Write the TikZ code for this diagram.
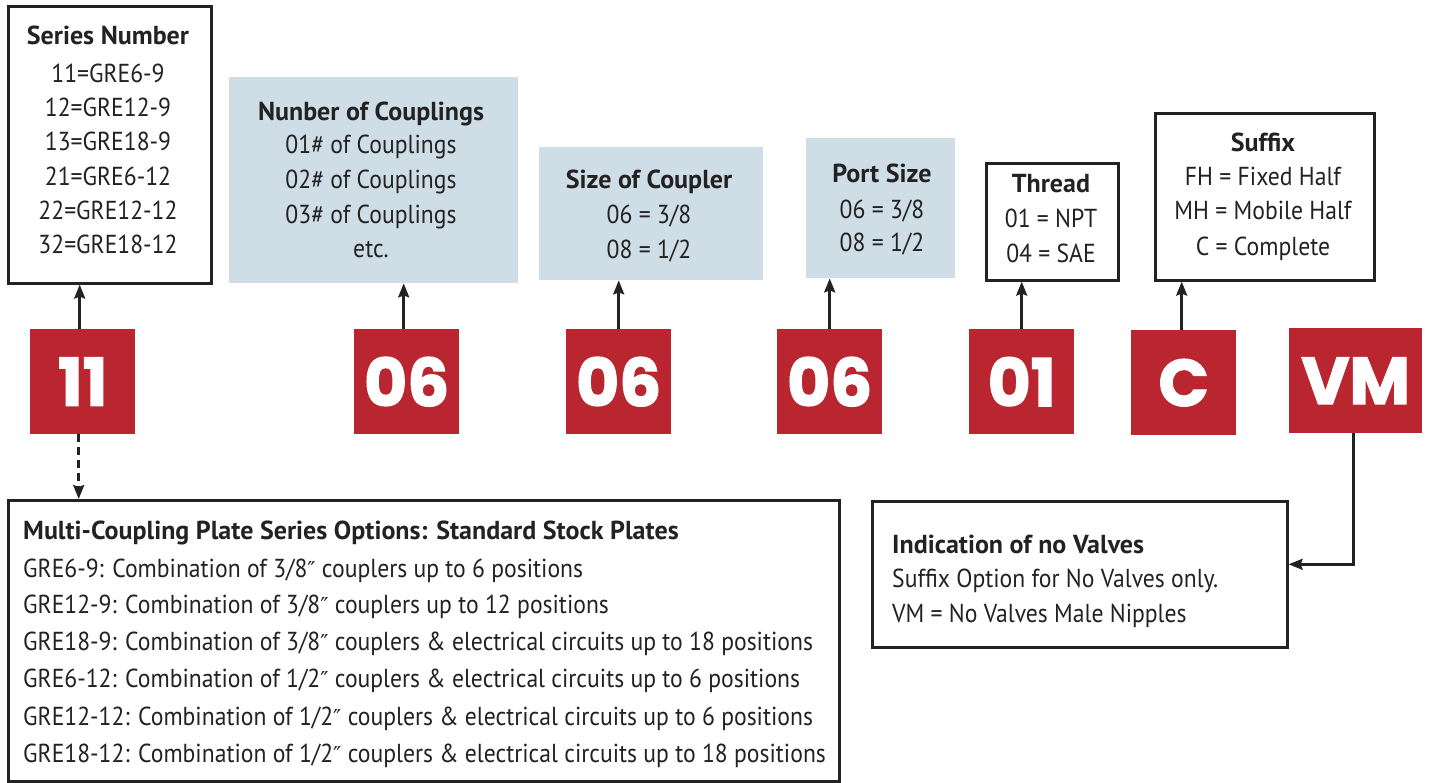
\documentclass[tikz,border=0pt]{standalone}
\usepackage{fontspec}
\setmainfont{PT Sans}[FakeStretch=0.91,BoldFeatures={FakeStretch=1.0}]
\newfontfamily\numfont{Poppins}[BoldFeatures={FakeBold=2}]
\newfontfamily\djv{DejaVu Sans}
\newcommand{\inch}{{\djv\fontsize{22}{26}\selectfont ″}}
\usetikzlibrary{arrows.meta}
\definecolor{redbox}{HTML}{BA2630}
\definecolor{bluebox}{HTML}{CFDDE6}
\definecolor{ink}{HTML}{222222}
\begin{document}
\begin{tikzpicture}[x=1pt,y=-1pt,
  frame/.style={draw=ink,line width=2.6pt,fill=white,inner sep=0,anchor=north west},
  shadebox/.style={fill=bluebox,inner sep=0,anchor=north west},
  code/.style={fill=redbox,text=white,inner sep=0,anchor=north west,
    font=\numfont\bfseries\fontsize{66}{66}\selectfont},
  txt/.style={font=\fontsize{26}{30}\selectfont,text=ink,anchor=base,inner sep=0},
  ttl/.style={txt,font=\bfseries\fontsize{26}{30}\selectfont},
  txtl/.style={txt,anchor=base west},
  ttll/.style={ttl,anchor=base west},
  arr/.style={draw=ink,line width=2.6pt,-{Stealth[length=14pt,width=11pt,inset=2pt]}}]
\useasboundingbox (0,0) rectangle (1429,782);

% description boxes
\node[frame,minimum width=203,minimum height=277] (series) at (7,5) {};
\node[shadebox,minimum width=289,minimum height=206] (ncoup) at (229,77) {};
\node[shadebox,minimum width=224,minimum height=133] (csize) at (539,147) {};
\node[shadebox,minimum width=149,minimum height=140] (port) at (806,138) {};
\node[frame,minimum width=132,minimum height=117] (thread) at (985,162) {};
\node[frame,minimum width=219,minimum height=167] (suffix) at (1154,112) {};
\node[frame,minimum width=831,minimum height=281] (plate) at (7,499) {};
\node[frame,minimum width=415,minimum height=146] (novalve) at (871,500) {};

% code boxes
\node[code,minimum width=105,minimum height=105] (c11) at (30,329) {11};
\node[code,minimum width=105,minimum height=105] (c06a) at (354,329) {06};
\node[code,minimum width=105,minimum height=105] (c06b) at (566,329) {06};
\node[code,minimum width=105,minimum height=105] (c06c) at (777,329) {06};
\node[code,minimum width=105,minimum height=105] (c01) at (969,329) {01};
\node[code,minimum width=105,minimum height=105] (cC) at (1131,330) {C};
\node[code,minimum width=133,minimum height=105] (cVM) at (1289,328) {VM};

% texts: series
\node[ttl] (s0) at (108,44) {Series Number};
\node[txt] (s1) at (108,82) {11=GRE6-9};
\node[txt] (s2) at (108,116) {12=GRE12-9};
\node[txt] (s3) at (108,150) {13=GRE18-9};
\node[txt] (s4) at (108,185) {21=GRE6-12};
\node[txt] (s5) at (108,219) {22=GRE12-12};
\node[txt] (s6) at (108,253) {32=GRE18-12};
% number of couplings
\node[ttl] (n0) at (371,120) {Nunber of Couplings};
\node[txt] (n1) at (371,153) {01\# of Couplings};
\node[txt] (n2) at (371,188) {02\# of Couplings};
\node[txt] (n3) at (371,223) {03\# of Couplings};
\node[txt] (n4) at (371,257) {etc.};
% size of coupler
\node[ttl] (z0) at (649,188) {Size of Coupler};
\node[txt] (z1) at (649,223) {06 = 3/8};
\node[txt] (z2) at (649,258) {08 = 1/2};
% port size
\node[ttl] (p0) at (882,182) {Port Size};
\node[txt] (p1) at (882,218) {06 = 3/8};
\node[txt] (p2) at (882,251) {08 = 1/2};
% thread
\node[ttl] (t0) at (1051,192) {Thread};
\node[txt] (t1) at (1051,227) {01 = NPT};
\node[txt] (t2) at (1051,262) {04 = SAE};
% suffix
\node[ttl] (f0) at (1263,151) {Suffix};
\node[txt] (f1) at (1263,185) {FH = Fixed Half};
\node[txt] (f2) at (1263,219) {MH = Mobile Half};
\node[txt] (f3) at (1263,255) {C = Complete};
% plate
\node[ttll] (m0) at (23,539) {Multi-Coupling Plate Series Options: Standard Stock Plates};
\node[txtl] (m1) at (23,577) {GRE6-9: Combination of 3/8\inch{} couplers up to 6 positions};
\node[txtl] (m2) at (23,613) {GRE12-9: Combination of 3/8\inch{} couplers up to 12 positions};
\node[txtl] (m3) at (23,650) {GRE18-9: Combination of 3/8\inch{} couplers \& electrical circuits up to 18 positions};
\node[txtl] (m4) at (23,687) {GRE6-12: Combination of 1/2\inch{} couplers \& electrical circuits up to 6 positions};
\node[txtl] (m5) at (23,725) {GRE12-12: Combination of 1/2\inch{} couplers \& electrical circuits up to 6 positions};
\node[txtl] (m6) at (23,762) {GRE18-12: Combination of 1/2\inch{} couplers \& electrical circuits up to 18 positions};
% no valves
\node[ttll] (v0) at (892,553) {Indication of no Valves};
\node[txtl] (v1) at (892,587) {Suffix Option for No Valves only.};
\node[txtl] (v2) at (892,622) {VM = No Valves Male Nipples};

% connectors
\draw[arr] ([xshift=-3pt]c11.north) -- ([xshift=-3pt]c11.north |- series.south);
\draw[arr] ([xshift=-3pt]c06a.north) -- ([xshift=-3pt]c06a.north |- ncoup.south);
\draw[arr] (c06b.north) -- (c06b.north |- csize.south);
\draw[arr] (c06c.north) -- (c06c.north |- port.south);
\draw[arr] (c01.north) -- (c01.north |- thread.south);
\draw[arr] ([xshift=-2pt]cC.north) -- ([xshift=-2pt]cC.north |- suffix.south);
\draw[arr,dash pattern=on 8pt off 5pt] ([xshift=-4pt]c11.south) -- ([xshift=-4pt]c11.south |- plate.north);
\draw[arr] ([xshift=-2pt]cVM.south) |- ([yshift=10pt]novalve.east);
\end{tikzpicture}
\end{document}
